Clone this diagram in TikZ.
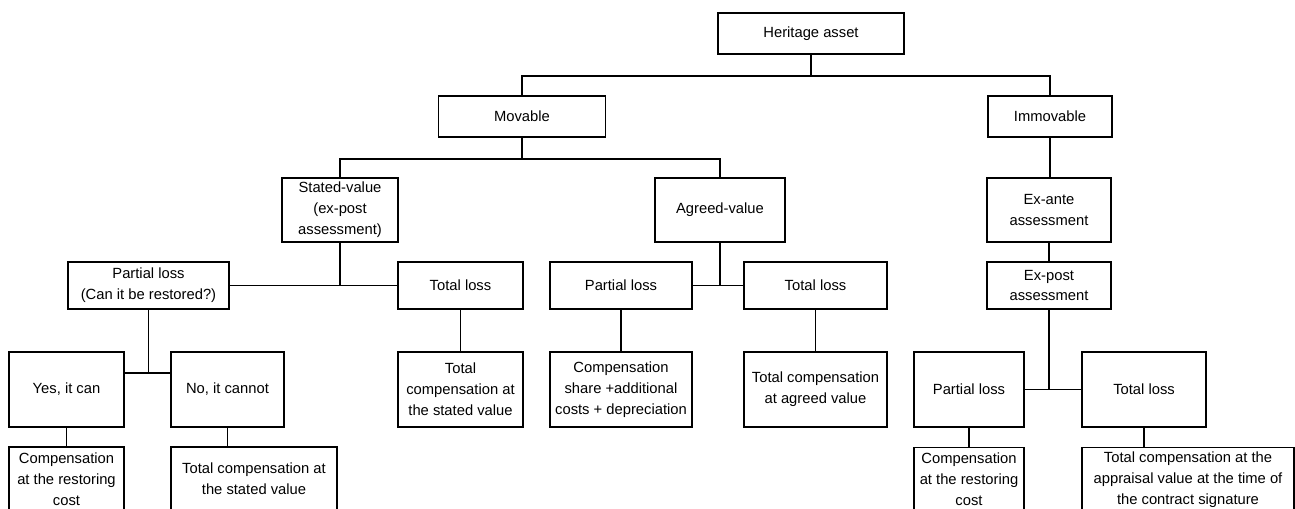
\documentclass[tikz,border=0pt]{standalone}
\usepackage{fontspec}
\setmainfont{Liberation Sans}
\usepackage{tikz}
\tikzset{box/.style={draw=black,line width=1pt,fill=white,align=center,inner sep=0pt,font=\fontsize{8.4}{11.9}\selectfont}, link/.style={draw=black,line width=1pt}}

\begin{document}
\begin{tikzpicture}[x=0.02cm,y=-0.02cm]
\useasboundingbox (0,0) rectangle (1295,508);
\clip (0,0) rectangle (1295,508);
\node[box,minimum width=3.72cm,minimum height=0.82cm] (asset) at (811,33.5) {Heritage asset};
\node[box,minimum width=3.34cm,minimum height=0.82cm] (movable) at (522,116.5) {Movable};
\node[box,minimum width=2.48cm,minimum height=0.82cm] (immovable) at (1050,116.5) {Immovable};
\node[box,minimum width=2.32cm,minimum height=1.28cm] (stated) at (340,210) {Stated-value\\(ex-post\\assessment)};
\node[box,minimum width=2.6cm,minimum height=1.28cm] (agreed) at (720,210) {Agreed-value};
\node[box,minimum width=2.48cm,minimum height=1.28cm] (exante) at (1049,210) {Ex-ante\\assessment};
\node[box,minimum width=2.48cm,minimum height=0.94cm] (expost) at (1049,285.5) {Ex-post\\assessment};
\node[box,minimum width=3.22cm,minimum height=0.94cm] (partS) at (148.5,285.5) {Partial loss\\(Can it be restored?)};
\node[box,minimum width=2.5cm,minimum height=0.94cm] (totS) at (460.5,285.5) {Total loss};
\node[box,minimum width=2.84cm,minimum height=0.94cm] (partA) at (621,285.5) {Partial loss};
\node[box,minimum width=2.86cm,minimum height=0.94cm] (totA) at (815.5,285.5) {Total loss};
\node[box,minimum width=2.3cm,minimum height=1.5cm] (yes) at (66.5,389.5) {Yes, it can};
\node[box,minimum width=2.26cm,minimum height=1.5cm] (no) at (227.5,389.5) {No, it cannot};
\node[box,minimum width=2.5cm,minimum height=1.5cm] (compS) at (460.5,389.5) {Total\\compensation at\\the stated value};
\node[box,minimum width=2.84cm,minimum height=1.5cm] (share) at (621,389.5) {Compensation\\share +additional\\costs + depreciation};
\node[box,minimum width=2.86cm,minimum height=1.5cm] (compA) at (815.5,389.5) {Total compensation\\at agreed value};
\node[box,minimum width=2.2cm,minimum height=1.5cm] (partI) at (969,389.5) {Partial loss};
\node[box,minimum width=2.48cm,minimum height=1.5cm] (totI) at (1144,389.5) {Total loss};
\node[box,minimum width=2.3cm,minimum height=1.28cm] (restL) at (66.5,479) {Compensation\\at the restoring\\cost};
\node[box,minimum width=3.32cm,minimum height=1.28cm] (noComp) at (254,479) {Total compensation at\\the stated value};
\node[box,minimum width=2.2cm,minimum height=1.28cm] (restR) at (969,479.5) {Compensation\\at the restoring\\cost};
\node[box,minimum width=4.24cm,minimum height=1.28cm] (apprl) at (1188,479.5) {Total compensation at the\\appraisal value at the time of\\the contract signature};
% forks
\foreach \src/\dst in {asset/movable,asset/immovable,movable/stated,movable/agreed}{\draw[link] (\src.south) -- ++(0,21) -| (\dst.north);}
\foreach \src/\dst in {stated/partS.east,stated/totS.west,agreed/partA.east,agreed/totA.west,expost/partI.east,expost/totI.west}{\draw[link] (\src.south) |- (\dst);}
\draw[link] (partS.south) -- ++(0,63) coordinate (fork);
\draw[link] (yes.east |- fork) -- (no.west |- fork);
% straight down
\foreach \src/\dst in {immovable/exante,exante/expost,totS/compS,partA/share,totA/compA,yes/restL,no/noComp,partI/restR,totI/apprl}{\draw[link] (\src.south) -- (\src.south |- \dst.north);}
\end{tikzpicture}
\end{document}
